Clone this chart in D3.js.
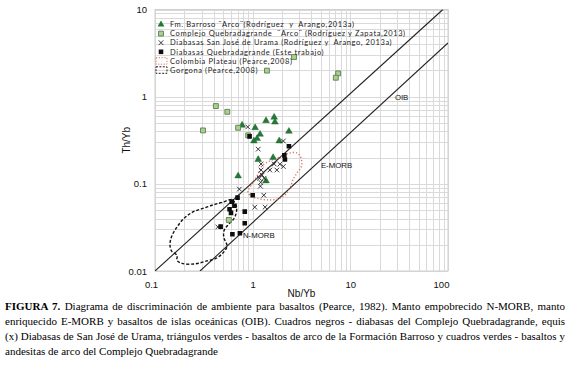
<!DOCTYPE html>
<html>
<head>
<meta charset="utf-8">
<script src="https://cdn.jsdelivr.net/npm/d3@7"></script>
<style>
  body { margin: 0; background: #fff; }
  svg { display: block; }
  text { white-space: pre; }
</style>
</head>
<body>
<div id="chart"></div>
<script>
// Th/Yb vs Nb/Yb diagram (Pearce)

var xTicks = [0.1, 1, 10, 100];
var xTickLabels = ["0.1", "1", "10", "100"];
var yTicks = [0.01, 0.1, 1, 10];
var yTickLabels = ["0.01", "0.1", "1", "10"];

// [Nb/Yb, Th/Yb]
var barroso = [
	[0.78, 0.47], [1.06, 0.44], [1.37, 0.53], [1.66, 0.58], [1.69, 0.51],
	[2.35, 0.40], [1.19, 0.37], [1.11, 0.33], [1.03, 0.31], [1.87, 0.31],
	[1.14, 0.19], [1.62, 0.20], [0.71, 0.123], [1.37, 0.108]
];
var complejo = [
	[2.65, 2.85], [1.40, 1.99], [7.5, 1.85], [7.1, 1.65], [0.42, 0.78],
	[0.55, 0.67], [0.31, 0.41], [0.71, 0.44], [0.90, 0.36], [0.57, 0.0385]
];
var urama = [
	[0.89, 0.45], [2.06, 0.31], [1.14, 0.25], [1.22, 0.169], [1.66, 0.169],
	[1.90, 0.168], [2.06, 0.158], [1.22, 0.144], [1.50, 0.144], [1.77, 0.144],
	[1.25, 0.126], [1.17, 0.116], [1.31, 0.116], [1.21, 0.104], [1.20, 0.094],
	[0.73, 0.087], [1.30, 0.074], [1.05, 0.054], [1.34, 0.054], [0.44, 0.032]
];
var quebrada = [
	[2.35, 0.27], [2.11, 0.212], [2.14, 0.19], [0.93, 0.35], [1.0, 0.074],
	[0.70, 0.0695], [0.61, 0.0625], [0.65, 0.056], [0.58, 0.051], [0.60, 0.0464],
	[0.83, 0.048], [0.83, 0.0353], [0.47, 0.0323], [0.62, 0.0264], [0.74, 0.0271]
];
var colombiaPlateau = [
	[0.895, 0.0807], [0.984, 0.0997], [1.106, 0.123], [1.245, 0.160], [1.50, 0.183],
	[1.90, 0.2035], [2.41, 0.226], [2.84, 0.226], [3.12, 0.198], [3.16, 0.160],
	[2.84, 0.1334], [2.585, 0.111], [2.41, 0.0897], [2.14, 0.0746], [1.815, 0.0671],
	[1.435, 0.0654], [1.13, 0.068], [0.96, 0.0727]
];
var gorgona = [
	[0.614, 0.0662], [0.485, 0.0612], [0.3925, 0.0573], [0.310, 0.0522], [0.245, 0.0476],
	[0.198, 0.0401], [0.168, 0.0320], [0.149, 0.0253], [0.1424, 0.0205], [0.1475, 0.0170],
	[0.168, 0.0151], [0.168, 0.01323], [0.189, 0.01222], [0.2567, 0.01206], [0.3405, 0.01306],
	[0.421, 0.01395], [0.497, 0.01613], [0.546, 0.0194], [0.508, 0.0240], [0.508, 0.0288],
	[0.559, 0.0338], [0.629, 0.0386], [0.675, 0.0452], [0.683, 0.0543], [0.644, 0.0628]
];
// limits of the MORB-OIB array
var upperArray = [[0.1, 0.01], [88.7, 10]];
var lowerArray = [[0.289, 0.01], [100, 4.13]];

var lineLabels = ["OIB", "E-MORB", "N-MORB"];
var lineLabelAt = [[28.6, 0.917], [5.0, 0.152], [0.796, 0.0237]];

var legendLabels = [
	"Fm. Barroso ¨Arco¨(Rodríguez  y  Arango,2013a)",
	"Complejo Quebradagrande  ¨Arco¨ (Rodríguez y Zapata,2013)",
	"Diabasas San José de Urama (Rodríguez y  Arango, 2013a)",
	"Diabasas Quebradagrande (Este trabajo)",
	"Colombia Plateau (Pearce,2008)",
	"Gorgona (Pearce,2008)"
];

var captionLines = [
	["FIGURA 7.", " Diagrama de discriminación de ambiente para basaltos (Pearce, 1982). Manto empobrecido N-MORB, manto"],
	["", "enriquecido E-MORB y basaltos de islas oceánicas (OIB). Cuadros negros - diabasas del Complejo Quebradagrande, equis"],
	["", "(x) Diabasas de San José de Urama, triángulos verdes - basaltos de arco de la Formación Barroso y cuadros verdes - basaltos y"],
	["", "andesitas de arco del Complejo Quebradagrande"]
];

var width = 570, height = 367;
var plot = {left: 155, right: 448, top: 9.5, bottom: 271};

var svg = d3.select("#chart").append("svg")
	.attr("width", width)
	.attr("height", height);

var x = d3.scaleLog().domain([0.1, 100]).range([plot.left, plot.right]);
var y = d3.scaleLog().domain([0.01, 10]).range([plot.bottom, plot.top]);

// minor + major grid values
function gridValues(lo, hi) {
	var out = [];
	for (var d = lo; d < hi * 0.99; d *= 10) {
		for (var k = 1; k < 10; k++) out.push(d * k);
	}
	out.push(hi);
	return out;
}

var grid = svg.append("g").attr("stroke", "#dadada").attr("stroke-width", 1);
grid.selectAll("line.gx").data(gridValues(0.1, 100)).enter().append("line")
	.attr("x1", function(d) { return Math.round(x(d)) + 0.5; })
	.attr("x2", function(d) { return Math.round(x(d)) + 0.5; })
	.attr("y1", plot.top).attr("y2", plot.bottom);
grid.selectAll("line.gy").data(gridValues(0.01, 10)).enter().append("line")
	.attr("y1", function(d) { return Math.round(y(d)) + 0.5; })
	.attr("y2", function(d) { return Math.round(y(d)) + 0.5; })
	.attr("x1", plot.left).attr("x2", plot.right);

svg.append("rect")
	.attr("x", plot.left).attr("y", plot.top)
	.attr("width", plot.right - plot.left).attr("height", plot.bottom - plot.top)
	.attr("fill", "none").attr("stroke", "#cfcfcf");

svg.append("clipPath").attr("id", "clip").append("rect")
	.attr("x", plot.left).attr("y", plot.top)
	.attr("width", plot.right - plot.left).attr("height", plot.bottom - plot.top);

var inner = svg.append("g").attr("clip-path", "url(#clip)");

var line = d3.line().x(function(d) { return x(d[0]); }).y(function(d) { return y(d[1]); });
var loop = d3.line().curve(d3.curveCatmullRomClosed)
	.x(function(d) { return x(d[0]); }).y(function(d) { return y(d[1]); });

// array lines
[upperArray, lowerArray].forEach(function(seg) {
	inner.append("path").datum(seg).attr("d", line)
		.attr("fill", "none").attr("stroke", "#222").attr("stroke-width", 1.1);
});

// reference fields
inner.append("path").datum(gorgona).attr("d", loop)
	.attr("fill", "none").attr("stroke", "#111").attr("stroke-width", 1.4)
	.attr("stroke-dasharray", "3,1.8");
inner.append("path").datum(colombiaPlateau).attr("d", loop)
	.attr("fill", "none").attr("stroke", "#e0705c").attr("stroke-width", 1.4)
	.attr("stroke-dasharray", "1.2,2");

// line labels
svg.selectAll("text.lbl").data(lineLabels).enter().append("text")
	.attr("x", function(d, i) { return x(lineLabelAt[i][0]); })
	.attr("y", function(d, i) { return y(lineLabelAt[i][1]); })
	.attr("font-family", "Liberation Sans, Arial, sans-serif")
	.attr("font-size", 7.8)
	.attr("fill", "#111")
	.text(function(d) { return d; });

// markers
var triangle = d3.symbol().type(d3.symbolTriangle).size(20);
var square = d3.symbol().type(d3.symbolSquare).size(24);
var smallSquare = d3.symbol().type(d3.symbolSquare).size(21);
var crossPath = "M-2.3,-2.3L2.3,2.3M-2.3,2.3L2.3,-2.3";

inner.selectAll("path.tri").data(barroso).enter().append("path")
	.attr("transform", function(d) { return "translate(" + x(d[0]) + "," + y(d[1]) + ")"; })
	.attr("d", triangle)
	.attr("fill", "#237a36").attr("stroke", "#1b5e2a").attr("stroke-width", 0.4);

inner.selectAll("path.gsq").data(complejo).enter().append("path")
	.attr("transform", function(d) { return "translate(" + x(d[0]) + "," + y(d[1]) + ")"; })
	.attr("d", square)
	.attr("fill", "#a9d08e").attr("stroke", "#5e7d52").attr("stroke-width", 0.9);

inner.selectAll("path.xx").data(urama).enter().append("path")
	.attr("transform", function(d) { return "translate(" + x(d[0]) + "," + y(d[1]) + ")"; })
	.attr("d", crossPath)
	.attr("fill", "none").attr("stroke", "#222").attr("stroke-width", 0.9);

inner.selectAll("path.bsq").data(quebrada).enter().append("path")
	.attr("transform", function(d) { return "translate(" + x(d[0]) + "," + y(d[1]) + ")"; })
	.attr("d", smallSquare)
	.attr("fill", "#0d0d0d");

// axes
var yAxis = svg.append("g")
	.attr("transform", "translate(" + plot.left + ",0)")
	.call(d3.axisLeft(y).tickValues(yTicks)
		.tickFormat(function(d, i) { return yTickLabels[i]; })
		.tickSize(0).tickPadding(8));
var xAxis = svg.append("g")
	.attr("transform", "translate(0," + plot.bottom + ")")
	.call(d3.axisBottom(x).tickValues(xTicks)
		.tickFormat(function(d, i) { return xTickLabels[i]; })
		.tickSize(0).tickPadding(10));
[xAxis, yAxis].forEach(function(ax) {
	ax.select(".domain").remove();
	ax.selectAll("text")
		.attr("font-family", "Liberation Sans, Arial, sans-serif")
		.attr("font-size", 9.5)
		.attr("fill", "#111");
});
xAxis.selectAll(".tick text").attr("dx", function(d, i) {
	return i === 0 ? -4 : (i === xTicks.length - 1 ? -7 : 0);
});

svg.append("text")
	.attr("x", (plot.left + plot.right) / 2).attr("y", 297)
	.attr("text-anchor", "middle")
	.attr("font-family", "Liberation Sans, Arial, sans-serif")
	.attr("font-size", 10).attr("fill", "#111")
	.text("Nb/Yb");
svg.append("text")
	.attr("transform", "translate(130," + (plot.top + plot.bottom) / 2 + ") rotate(-90)")
	.attr("text-anchor", "middle")
	.attr("font-family", "Liberation Sans, Arial, sans-serif")
	.attr("font-size", 10).attr("fill", "#111")
	.text("Th/Yb");

// legend
var legend = svg.append("g").attr("transform", "translate(161,24.5)");
var rowH = 9.1;
legendLabels.forEach(function(lab, i) {
	var g = legend.append("g").attr("transform", "translate(0," + (i * rowH) + ")");
	if (i === 0) {
		g.append("path").attr("d", triangle).attr("fill", "#237a36");
	} else if (i === 1) {
		g.append("path").attr("d", square).attr("fill", "#a9d08e")
			.attr("stroke", "#5e7d52").attr("stroke-width", 0.9);
	} else if (i === 2) {
		g.append("path").attr("d", crossPath).attr("fill", "none")
			.attr("stroke", "#222").attr("stroke-width", 0.9);
	} else if (i === 3) {
		g.append("path").attr("d", smallSquare).attr("fill", "#0d0d0d");
	} else {
		g.append("rect").attr("x", -5).attr("y", -3.2).attr("width", 11).attr("height", 6.5)
			.attr("fill", "none")
			.attr("stroke", i === 4 ? "#e0705c" : "#222")
			.attr("stroke-width", 1)
			.attr("stroke-dasharray", i === 4 ? "1.2,1.6" : "2,1.4");
	}
	g.append("text")
		.attr("x", 9).attr("y", 2.7)
		.attr("font-family", "Lato, 'Open Sans', sans-serif")
		.attr("font-size", 7.5)
		.attr("letter-spacing", 0.6)
		.attr("fill", "#222")
		.text(lab);
});

// caption, justified
var capX0 = 5, capX1 = 565, capY0 = 310, capLH = 15;
captionLines.forEach(function(parts, i) {
	var t = svg.append("text")
		.attr("x", capX0).attr("y", capY0 + i * capLH)
		.attr("font-family", "Liberation Serif, 'Times New Roman', serif")
		.attr("font-size", 11)
		.attr("fill", "#000");
	if (parts[0]) t.append("tspan").attr("font-weight", "bold").text(parts[0]);
	t.append("tspan").text(parts[1]);
	if (i < captionLines.length - 1) {
		var natural = t.node().getComputedTextLength();
		var spaces = (parts[0] + parts[1]).split(" ").length - 1;
		t.attr("word-spacing", ((capX1 - capX0) - natural) / spaces);
	}
});
</script>
</body>
</html>
